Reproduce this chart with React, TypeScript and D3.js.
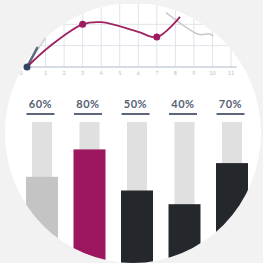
import React, { useEffect, useRef } from "react";
import * as d3 from "d3";

// line chart (top)
const xTicks = [0, 1, 2, 3, 4, 5, 6, 7, 8, 9, 10, 11];
const yGrid = [1, 2, 3];
const trendX = [0, 1.2, 3, 4, 6, 7, 8.25];
const trendY = [0, 0.95, 2, 2.1, 1.65, 1.4, 2.35];
const ghostX = [7.5, 8.6, 9.3, 9.85, 10.05];
const ghostY = [2.55, 1.85, 1.52, 1.55, 1.45];
const trailX = [0, 0.5, 1];
const trailY = [0, 0.72, 1.36];
const streakX = [0, 0.55];
const streakY = [0, 0.9];
const markerX = [3, 7];
const markerY = [2, 1.41];

// bars (bottom)
const categories = ["A", "B", "C", "D", "E"];
const percents = [60, 80, 50, 40, 70];
const barLabels = ["60%", "80%", "50%", "40%", "70%"];

const palette = ["#c4c4c4", "#9c1760", "#24282c", "#24282c", "#24282c"];

const App = () => {
  const svgRef = useRef<SVGSVGElement>(null);

  useEffect(() => {
    const width = 263;
    const height = 263;

    const svg = d3.select(svgRef.current).attr("width", width).attr("height", height);
    svg.selectAll("*").remove();

    svg.append("rect").attr("width", width).attr("height", height).attr("fill", "#f2f2f2");

    svg.append("defs")
      .append("clipPath")
      .attr("id", "disc")
      .append("ellipse")
      .attr("cx", 133).attr("cy", 133).attr("rx", 128).attr("ry", 130);

    svg.append("ellipse")
      .attr("cx", 133).attr("cy", 133).attr("rx", 128).attr("ry", 130)
      .attr("fill", "#ffffff");

    const x = d3.scaleLinear().domain([0, 11]).range([27, 231]);
    const y = d3.scaleLinear().domain([0, 3]).range([67, 3]);

    // grid
    const grid = svg.append("g").attr("clip-path", "url(#disc)")
      .attr("stroke", "#dfe4ea").attr("stroke-width", 1);
    grid.selectAll(".vx")
      .data(xTicks.slice(1))
      .join("line")
      .attr("x1", d => x(d)).attr("x2", d => x(d))
      .attr("y1", y(0)).attr("y2", 0);
    grid.selectAll(".hy")
      .data(yGrid)
      .join("line")
      .attr("x1", 0).attr("x2", width)
      .attr("y1", d => y(d)).attr("y2", d => y(d));

    // axis
    svg.append("line")
      .attr("x1", x(0)).attr("x2", x(11.3))
      .attr("y1", y(0)).attr("y2", y(0))
      .attr("stroke", "#c8d1dc").attr("stroke-width", 1.5);

    svg.append("g")
      .selectAll("text")
      .data(xTicks)
      .join("text")
      .attr("x", d => (d === 0 ? x(d) - 6 : x(d)))
      .attr("y", y(0) + 8)
      .attr("text-anchor", "middle")
      .attr("font-family", "Lato, sans-serif")
      .attr("font-size", 5.5)
      .attr("fill", "#b8c0cb")
      .text(d => d);

    const curve = (xs: number[], ys: number[]) =>
      d3.line<number>().x(i => x(xs[i])).y(i => y(ys[i])).curve(d3.curveCatmullRom)(xs.map((_, i) => i));

    svg.append("path").attr("d", curve(trailX, trailY))
      .attr("fill", "none").attr("stroke", "#cfcfcf").attr("stroke-width", 1.5);
    svg.append("path").attr("d", curve(ghostX, ghostY))
      .attr("fill", "none").attr("stroke", "#c9c9c9").attr("stroke-width", 1.5);
    svg.append("path").attr("d", curve(streakX, streakY))
      .attr("fill", "none").attr("stroke", "#3b4a60").attr("stroke-width", 2.5)
      .attr("stroke-linecap", "round").attr("opacity", 0.8);
    svg.append("path").attr("d", curve(trendX, trendY))
      .attr("fill", "none").attr("stroke", "#a0225f").attr("stroke-width", 1.8);

    svg.append("circle").attr("cx", x(0)).attr("cy", y(0)).attr("r", 3.5).attr("fill", "#34445c");
    svg.selectAll(".mk")
      .data(markerX)
      .join("circle")
      .attr("cx", d => x(d))
      .attr("cy", (_, i) => y(markerY[i]))
      .attr("r", 3.5)
      .attr("fill", "#9c1a5e");

    // bars
    const xb = d3.scalePoint<string>().domain(categories).range([42, 232]);
    const yb = d3.scaleLinear().domain([0, 100]).range([259, 122]);

    const bars = svg.append("g").attr("clip-path", "url(#disc)");
    bars.selectAll(".track")
      .data(categories)
      .join("rect")
      .attr("x", d => xb(d)! - 10)
      .attr("y", yb(100))
      .attr("width", 20)
      .attr("height", height - yb(100))
      .attr("fill", "#e0e0e0");
    bars.selectAll(".bar")
      .data(percents)
      .join("rect")
      .attr("x", (_, i) => xb(categories[i])! - 16)
      .attr("y", d => yb(d))
      .attr("width", 32)
      .attr("height", d => height - yb(d))
      .attr("fill", (_, i) => palette[i]);

    svg.append("g")
      .selectAll("text")
      .data(barLabels)
      .join("text")
      .attr("x", (_, i) => xb(categories[i])! - 1.5)
      .attr("y", 108)
      .attr("text-anchor", "middle")
      .attr("font-family", "Lato, sans-serif")
      .attr("font-weight", 700)
      .attr("font-size", 11)
      .attr("letter-spacing", 0.5)
      .attr("fill", "#556075")
      .text(d => d);

    svg.append("g")
      .selectAll("line")
      .data(categories)
      .join("line")
      .attr("x1", d => xb(d)! - 15.5)
      .attr("x2", d => xb(d)! + 12.5)
      .attr("y1", 114).attr("y2", 114)
      .attr("stroke", "#5c667a")
      .attr("stroke-width", 2);
  }, []);

  return <svg ref={svgRef} style={{ position: "absolute", left: 0, top: 0 }} />;
};

export default App;
